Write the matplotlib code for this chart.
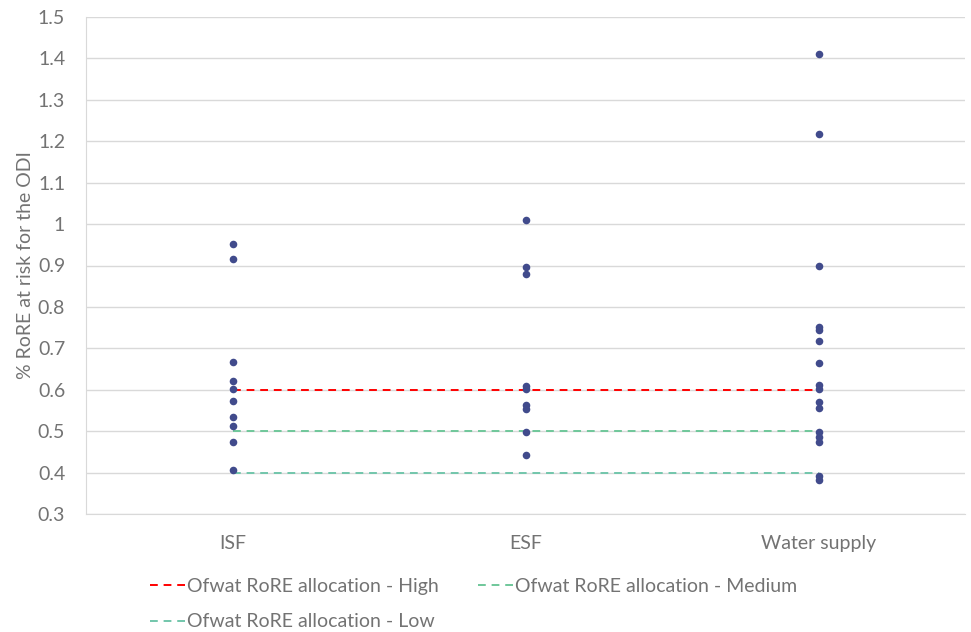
import matplotlib.pyplot as plt
import numpy as np

plt.rcParams['font.family'] = ['Lato', 'DejaVu Sans']

categories = ['ISF', 'ESF', 'Water supply']

isf = [0.952, 0.916, 0.668, 0.620, 0.601, 0.574, 0.534, 0.513, 0.473, 0.406]
esf = [1.009, 0.897, 0.880, 0.610, 0.602, 0.563, 0.553, 0.498, 0.443]
water = [1.411, 1.217, 0.899, 0.752, 0.744, 0.718, 0.665, 0.612, 0.602,
         0.571, 0.555, 0.499, 0.487, 0.475, 0.391, 0.383]

high = [0.6, 0.6, 0.6]
medium = [0.5, 0.5, 0.5]
low = [0.4, 0.4, 0.4]

grey = '#737373'
grid = '#d9d9d9'
dot = '#414b8c'
fs = 14

fig = plt.figure(figsize=(9.71, 6.32), dpi=100)
ax = fig.add_axes([86 / 971, 1 - 514 / 632, 879 / 971, 497 / 632])

x = np.arange(len(categories))
for i, vals in enumerate([isf, esf, water]):
    ax.scatter([x[i]] * len(vals), vals, s=30, color=dot, zorder=3, linewidths=0)

h_high, = ax.plot(x, high, color='#ff0000', linestyle=(0, (4, 3)), lw=1.4, zorder=2,
                  label='Ofwat RoRE allocation - High')
h_med, = ax.plot(x, medium, color='#6fc79a', linestyle=(0, (4, 3)), lw=1.4, zorder=2,
                 label='Ofwat RoRE allocation - Medium')
h_low, = ax.plot(x, low, color='#72c6ab', linestyle=(0, (4, 3)), lw=1.4, zorder=2,
                 label='Ofwat RoRE allocation - Low')

ax.set_xlim(-0.5, 2.5)
ax.set_ylim(0.3, 1.5)
ax.set_yticks(np.arange(0.3, 1.51, 0.1))
ax.set_yticklabels(['0.3', '0.4', '0.5', '0.6', '0.7', '0.8', '0.9', '1',
                    '1.1', '1.2', '1.3', '1.4', '1.5'])
ax.set_xticks(x)
ax.set_xticklabels(categories)
ax.tick_params(axis='both', length=0, labelsize=fs, colors=grey)
ax.tick_params(axis='y', pad=15)
ax.tick_params(axis='x', pad=15)
ax.grid(axis='y', color=grid, lw=1)
ax.set_axisbelow(True)

for side in ['top', 'right']:
    ax.spines[side].set_visible(False)
ax.spines['left'].set_color(grid)
ax.spines['bottom'].set_color(grid)

ax.set_ylabel('% RoRE at risk for the ODI', fontsize=fs, color=grey, labelpad=3)

# column-major fill: High/Medium on the first row, Low below
leg = fig.legend([h_high, h_low, h_med],
                 [h_high.get_label(), h_low.get_label(), h_med.get_label()],
                 loc='upper left', bbox_to_anchor=(150 / 971, 1 - 578 / 632),
                 borderaxespad=0, borderpad=0,
                 ncol=2, frameon=False, fontsize=fs, handlelength=1.8,
                 handletextpad=0.1, columnspacing=2.0, labelspacing=0.95)
for t in leg.get_texts():
    t.set_color(grey)

fig.savefig('out.png', dpi=100)
